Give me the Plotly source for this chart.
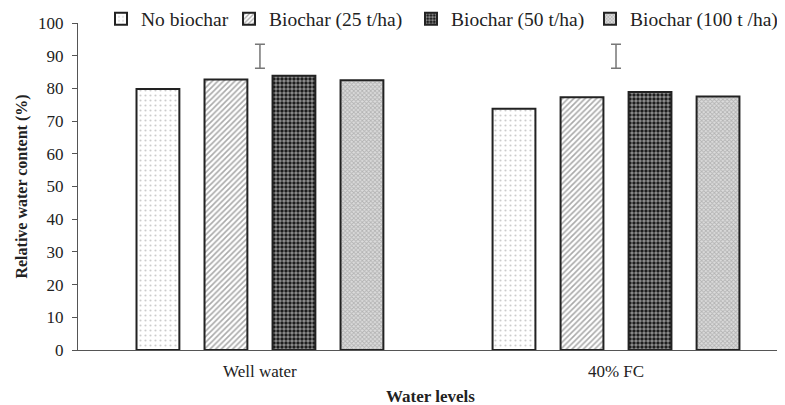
import plotly.graph_objects as go

categories = ["Well water", "40% FC"]
series_names = ["No biochar", "Biochar (25 t/ha)", "Biochar (50 t/ha)", "Biochar (100 t /ha)"]
no_biochar = [79.8, 73.8]
biochar_25 = [82.7, 77.3]
biochar_50 = [83.9, 78.9]
biochar_100 = [82.5, 77.5]
lsd_center = [89.85, 89.85]
lsd_half = [3.65, 3.65]

series_values = [no_biochar, biochar_25, biochar_50, biochar_100]
patterns = [
    dict(shape=".", fgcolor="#9a9a9a", bgcolor="white", size=5, solidity=0.15, fillmode="overlay"),
    dict(shape="/", fgcolor="#555555", bgcolor="white", size=4, solidity=0.4, fillmode="overlay"),
    dict(shape=".", fgcolor="white", bgcolor="#111111", size=4, solidity=0.6, fillmode="overlay"),
    dict(shape="x", fgcolor="#8a8a8a", bgcolor="#dcdcdc", size=3, solidity=0.5, fillmode="overlay"),
]
legend_ids = ["legend", "legend2", "legend3", "legend4"]
legend_x_px = [101, 229, 411, 590]

FONT = "Liberation Serif"
OFF = 8  # page body margin
PLOT_L, PLOT_R, PLOT_T, PLOT_B = 78, 783, 23, 350  # in page pixels
W, H = 785, 405

fig = go.Figure()
for name, vals, pat, lid in zip(series_names, series_values, patterns, legend_ids):
    fig.add_trace(go.Bar(
        x=categories, y=vals, name=name, legend=lid,
        marker=dict(color="white", pattern=pat, line=dict(color="#222222", width=2)),
    ))

fig.add_trace(go.Scatter(
    x=categories, y=lsd_center, mode="markers", showlegend=False,
    marker=dict(size=1, color="rgba(0,0,0,0)"),
    error_y=dict(type="data", array=lsd_half, visible=True, color="#777777", thickness=1.5, width=5),
))

legend_common = dict(orientation="h", yanchor="middle", xanchor="left",
                     y=(PLOT_B - 19) / (PLOT_B - PLOT_T),
                     font=dict(family=FONT, size=19.5, color="#222222"),
                     itemwidth=30, bgcolor="rgba(0,0,0,0)", borderwidth=0)
legends = {}
for lid, px in zip(legend_ids, legend_x_px):
    legends[lid] = dict(legend_common, x=(px - PLOT_L) / (PLOT_R - PLOT_L))

fig.update_layout(
    width=W, height=H,
    margin=dict(l=PLOT_L - OFF, r=W - (PLOT_R - OFF), t=PLOT_T - OFF, b=H - (PLOT_B - OFF), autoexpand=False),
    paper_bgcolor="white", plot_bgcolor="white",
    barmode="group", bargap=0.236, bargroupgap=0.37,
    font=dict(family=FONT, size=15, color="#222222"),
    xaxis=dict(
        range=[-0.511, 1.469], showline=True, linecolor="#555555", linewidth=1,
        ticks="", tickfont=dict(family=FONT, size=17, color="#222222"), ticklabelstandoff=6,
        title=dict(text="<b>Water levels</b>", font=dict(family=FONT, size=17, color="#222222"), standoff=9),
        showgrid=False, zeroline=False, automargin=False,
    ),
    yaxis=dict(
        range=[0, 100], dtick=10, showline=True, linecolor="#555555", linewidth=1,
        ticks="outside", ticklen=5, tickcolor="#555555",
        tickfont=dict(family=FONT, size=17, color="#222222"), ticklabelstandoff=5,
        title=dict(text="<b>Relative water content (%)</b>", font=dict(family=FONT, size=16, color="#222222"), standoff=6),
        showgrid=False, zeroline=False, automargin=False,
    ),
    **legends,
)

fig.write_html("out.html")
